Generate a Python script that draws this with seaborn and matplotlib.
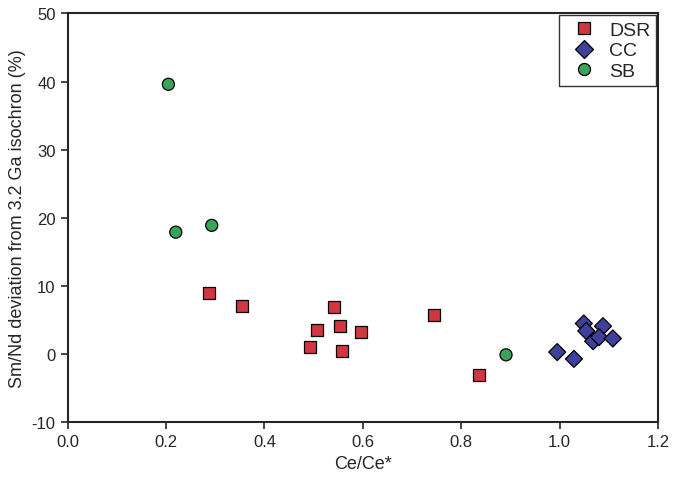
import matplotlib
matplotlib.use("Agg")
import matplotlib.pyplot as plt
import seaborn as sns
import pandas as pd

# Values
dsr_x = [0.287, 0.354, 0.492, 0.506, 0.541, 0.553, 0.557, 0.596, 0.744, 0.836]
dsr_y = [9.0, 7.1, 1.0, 3.5, 6.9, 4.1, 0.4, 3.2, 5.7, -3.1]
cc_x = [1.049, 1.054, 1.088, 1.068, 1.080, 1.108, 0.995, 1.029]
cc_y = [4.5, 3.4, 4.1, 1.9, 2.5, 2.3, 0.3, -0.7]
sb_x = [0.205, 0.220, 0.293, 0.891]
sb_y = [39.6, 17.9, 18.9, -0.1]

df = pd.concat([
    pd.DataFrame({"x": dsr_x, "y": dsr_y, "group": "DSR"}),
    pd.DataFrame({"x": cc_x, "y": cc_y, "group": "CC"}),
    pd.DataFrame({"x": sb_x, "y": sb_y, "group": "SB"}),
])

sns.set_style("ticks")
plt.rcParams["font.family"] = ["Liberation Sans", "DejaVu Sans"]
plt.rcParams["axes.unicode_minus"] = False

fig, ax = plt.subplots(figsize=(6.75, 4.81), dpi=100)
sns.scatterplot(data=df, x="x", y="y", hue="group", style="group",
                palette={"DSR": "#d2363f", "CC": "#3f3f9c", "SB": "#3aa35a"},
                markers={"DSR": "s", "CC": "D", "SB": "o"},
                s=75, edgecolor="black", linewidth=0.9, ax=ax)

ax.set_xlim(0, 1.2)
ax.set_ylim(-10, 50)
ax.set_xticks([0, 0.2, 0.4, 0.6, 0.8, 1.0, 1.2])
ax.set_xticklabels([f"{v:.1f}" for v in ax.get_xticks()])
ax.set_yticks(range(-10, 51, 10))
ax.set_xlabel("Ce/Ce*", fontsize=13)
ax.set_ylabel("Sm/Nd deviation from 3.2 Ga isochron (%)", fontsize=13)
ax.tick_params(labelsize=12, direction="out", length=5, width=1.2)
for sp in ax.spines.values():
    sp.set_linewidth(1.5)
    sp.set_visible(True)

leg = ax.legend(loc="upper right", fontsize=14, frameon=True, fancybox=False,
                handletextpad=0.3, borderpad=0.3, labelspacing=0.15,
                borderaxespad=0.1, title=None)
leg.get_frame().set_edgecolor("black")
leg.get_frame().set_linewidth(1.0)

fig.subplots_adjust(left=0.1, right=0.975, top=0.97, bottom=0.12)
fig.savefig("out.png", dpi=100)
